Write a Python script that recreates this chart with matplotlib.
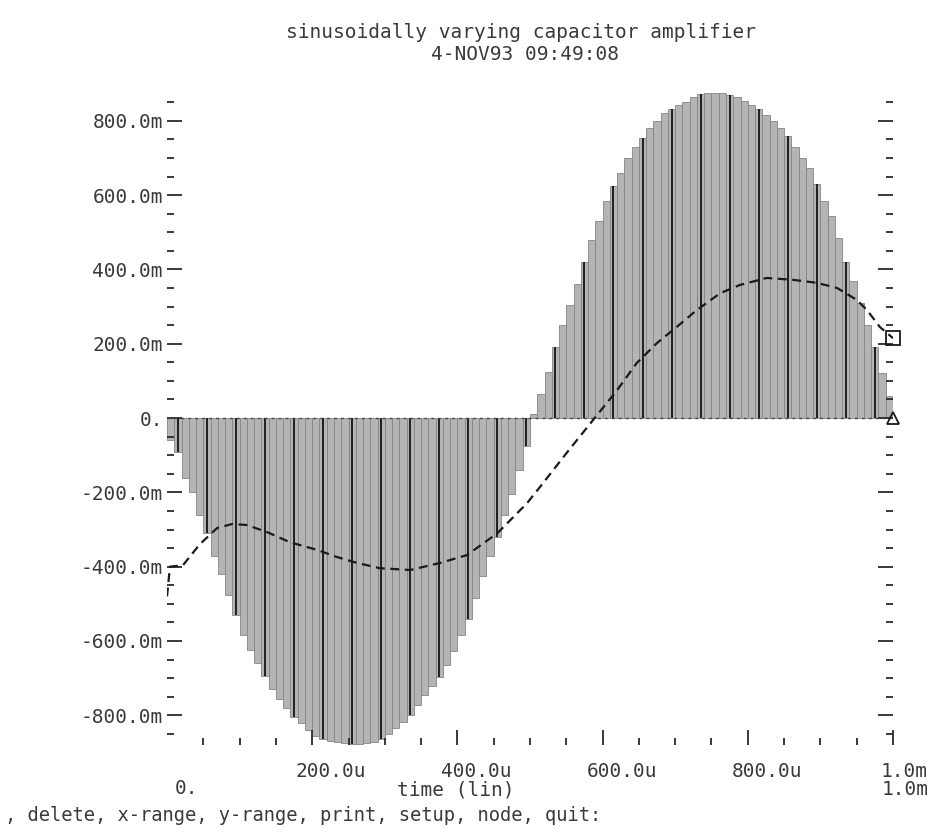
import matplotlib
matplotlib.use("Agg")
import matplotlib.pyplot as plt
from matplotlib.transforms import ScaledTranslation

# sampled amplifier output (bars), 10u steps, values in m
bar_t = list(range(0, 1000, 10))
bar_v = [-60, -92, -162, -200, -260, -310, -370, -420, -475, -530,
         -585, -625, -660, -695, -728, -756, -781, -804, -822, -840,
         -855, -863, -868, -872, -875, -876, -876, -875, -873, -865,
         -850, -835, -818, -798, -772, -745, -722, -698, -665, -628,
         -585, -540, -485, -425, -372, -320, -262, -205, -140, -75,
         10, 65, 125, 190, 250, 305, 360, 420, 480, 530,
         585, 625, 660, 700, 730, 755, 780, 800, 822, 832,
         843, 850, 865, 873, 876, 876, 874, 870, 865, 852,
         842, 832, 815, 800, 780, 760, 730, 700, 672, 630,
         585, 545, 485, 420, 370, 310, 250, 190, 120, 60]

# dashed (filtered) curve
line_t = [0, 4, 22, 45, 69, 90, 110, 138, 169, 207, 234, 262, 293, 335, 376,
          413, 455, 496, 518, 550, 587, 620, 647, 675, 702, 730, 762, 789,
          826, 862, 895, 923, 950, 964, 982, 1000]
line_v = [-480, -400, -396, -340, -296, -285, -288, -307, -334, -355, -374,
          -390, -404, -409, -390, -369, -310, -229, -175, -95, -5, 75, 148,
          202, 245, 291, 336, 358, 377, 372, 364, 350, 318, 291, 245, 215]

yticks = [-800, -600, -400, -200, 0, 200, 400, 600, 800]
ytick_labels = ["-800.0m", "-600.0m", "-400.0m", "-200.0m", "0.",
                "200.0m", "400.0m", "600.0m", "800.0m"]
xticks = [200, 400, 600, 800, 1000]
xtick_labels = ["200.0u", "400.0u", "600.0u", "800.0u", "1.0m"]

ink = "#3a3a3a"
plt.rcParams["font.family"] = ["DejaVu Sans Mono"]

fig = plt.figure(figsize=(9.3, 8.33), dpi=100)
ax = fig.add_axes([0.1796, 0.1056, 0.7806, 0.79])

ax.bar(bar_t, bar_v, width=10, align="edge", color="#b4b4b4",
       edgecolor="#858585", linewidth=0.6)
# darker strokes every few samples, like the plotter output
dark_t = [t + 5 for i, t in enumerate(bar_t) if i % 4 == 1]
dark_v = [v for i, v in enumerate(bar_v) if i % 4 == 1]
ax.vlines(dark_t, 0, dark_v, color="#1e1e1e", linewidth=1.4)

ax.axhline(0, color="#444444", linewidth=1.0, linestyle=(0, (2, 3)))
ax.plot(line_t, line_v, color="#1a1a1a", linewidth=1.6,
        linestyle=(0, (4, 2.5)))
ax.plot(line_t[-1], line_v[-1], marker="s", markersize=10, mfc="none",
        mec="#1a1a1a", mew=1.3, clip_on=False)
ax.plot(bar_t[-1] + 10, 0, marker="^", markersize=9, mfc="none",
        mec="#1a1a1a", mew=1.3, clip_on=False)

ax.set_xlim(0, 1000)
ax.set_ylim(-880, 891)
for s in ax.spines.values():
    s.set_visible(False)

ax.set_yticks(yticks)
ax.set_yticklabels(ytick_labels)
ax.set_yticks(range(-850, 900, 50), minor=True)
ax.set_xticks(xticks)
ax.set_xticklabels(xtick_labels)
ax.set_xticks(range(50, 1000, 50), minor=True)

ax.tick_params(which="both", direction="in", colors="#2a2a2a",
               right=True, left=True, bottom=True, top=False,
               labelcolor=ink, labelsize=14)
ax.tick_params(which="major", length=11, width=1.3)
ax.tick_params(which="minor", length=5, width=1.3)
ax.tick_params(axis="y", pad=3)
ax.tick_params(axis="x", pad=12)

shift = ScaledTranslation(0.19, 0, fig.dpi_scale_trans)
for lbl in ax.get_xticklabels():
    lbl.set_transform(lbl.get_transform() + shift)
last = ax.get_xticklabels()[-1]
last.set_horizontalalignment("right")
last.set_transform(last.get_transform()
                   + ScaledTranslation(0.16, 0, fig.dpi_scale_trans))

fig.text(0.56, 0.961, "sinusoidally varying capacitor amplifier",
         ha="center", va="center", fontsize=14, color=ink)
fig.text(0.565, 0.935, "4-NOV93 09:49:08", ha="center", va="center",
         fontsize=14, color=ink)

fig.text(0.2, 0.054, "0.", ha="center", va="center", fontsize=14, color=ink)
fig.text(0.49, 0.052, "time (lin)", ha="center", va="center", fontsize=14,
         color=ink)
fig.text(0.998, 0.052, "1.0m", ha="right", va="center", fontsize=14,
         color=ink)
fig.text(0.005, 0.021, ", delete, x-range, y-range, print, setup, node, quit:",
         ha="left", va="center", fontsize=13.5, color=ink)

fig.savefig("out.png", dpi=100, facecolor="white")
